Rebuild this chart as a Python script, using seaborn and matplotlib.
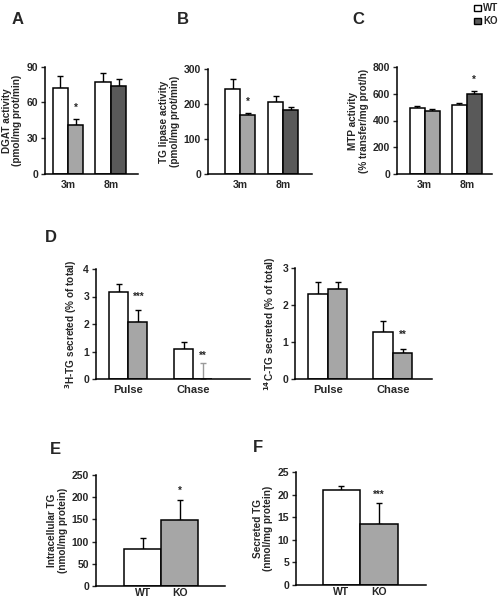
import numpy as np
import pandas as pd
import matplotlib
matplotlib.use("Agg")
import matplotlib.pyplot as plt
import seaborn as sns
from matplotlib.patches import Patch
from matplotlib.container import BarContainer

# data
ages = ["3m", "8m"]
phases = ["Pulse", "Chase"]
genotypes = ["WT", "KO"]

dgat_wt = [72, 77]
dgat_wt_err = [10, 8]
dgat_ko = [41, 74]
dgat_ko_err = [5.5, 5.5]

lipase_wt = [244, 207]
lipase_wt_err = [28, 16]
lipase_ko = [170, 183]
lipase_ko_err = [3, 9]

mtp_wt = [493, 518]
mtp_wt_err = [12, 10]
mtp_ko = [473, 600]
mtp_ko_err = [16, 18]

h3_wt = [3.17, 1.10]
h3_wt_err = [0.28, 0.23]
h3_ko = [2.06, 0.0]
h3_ko_err = [0.44, 0.6]

c14_wt = [2.29, 1.26]
c14_wt_err = [0.34, 0.31]
c14_ko = [2.43, 0.71]
c14_ko_err = [0.20, 0.10]

intra_tg = [84, 149]
intra_tg_err = [23, 44]
secr_tg = [21.0, 13.6]
secr_tg_err = [0.8, 4.6]

sns.set_style("white")
plt.rcParams["font.family"] = ["Liberation Sans", "DejaVu Sans"]
plt.rcParams["font.weight"] = "bold"
plt.rcParams["axes.labelweight"] = "bold"

LIGHT = "#a6a6a6"
DARK = "#595959"


def style_axis(ax, ticks, ylabel, ylim):
    sns.despine(ax=ax)
    ax.set_ylim(*ylim)
    ax.set_yticks(ticks)
    ax.tick_params(axis="y", direction="out", length=3, width=1, labelsize=7.5, pad=2, left=True)
    ax.tick_params(axis="x", length=0, labelsize=7.5, pad=4)
    for lab in ax.get_xticklabels() + ax.get_yticklabels():
        lab.set_fontweight("bold")
    for s in ["left", "bottom"]:
        ax.spines[s].set_linewidth(1.1)
        ax.spines[s].set_color("black")
    ax.set_xlabel("")
    ax.set_ylabel(ylabel, fontsize=7.2, fontweight="bold", labelpad=3, linespacing=1.1)


def add_err(ax, errs, colors=None):
    bars = [c for c in ax.containers if isinstance(c, BarContainer)]
    for c, cont in enumerate(bars):
        for i, bar in enumerate(cont):
            x = bar.get_x() + bar.get_width() / 2
            y = bar.get_height()
            col = "black" if colors is None else colors[c][i]
            ax.errorbar(x, y, yerr=[[0], [errs[c][i]]], fmt="none", ecolor=col,
                        elinewidth=1, capsize=2.5, capthick=1, zorder=1)


def grouped(ax, cats, wt, ko, width, xlim):
    df = pd.DataFrame({
        "cat": cats * 2,
        "val": wt + ko,
        "geno": ["WT"] * len(cats) + ["KO"] * len(cats),
    })
    sns.barplot(data=df, x="cat", y="val", hue="geno", ax=ax, width=width,
                palette={"WT": "white", "KO": LIGHT}, saturation=1,
                edgecolor="black", linewidth=1.1, legend=False, zorder=2)
    ax.set_xlim(*xlim)


def single(ax, vals, xlim):
    df = pd.DataFrame({"geno": genotypes, "val": vals})
    sns.barplot(data=df, x="geno", y="val", hue="geno", ax=ax, width=1.0,
                palette={"WT": "white", "KO": LIGHT}, saturation=1,
                edgecolor="black", linewidth=1.1, legend=False, zorder=2)
    ax.set_xlim(*xlim)


fig = plt.figure(figsize=(5.01, 6.0), dpi=100)

def fig_ax(l, t, r, b):
    W, H = 501, 600
    return fig.add_axes([l / W, 1 - b / H, (r - l) / W, (b - t) / H])

# A
axA = fig_ax(45, 66.7, 138, 174)
grouped(axA, ages, dgat_wt, dgat_ko, 0.72, (-0.535, 1.63))
axA.containers[1][1].set_facecolor(DARK)
add_err(axA, [dgat_wt_err, dgat_ko_err])
style_axis(axA, [0, 30, 60, 90], "DGAT activity\n(pmol/mg prot/min)", (0, 90))
axA.text(0.18, 53, "*", ha="center", fontsize=7, fontweight="bold")

# B
axB = fig_ax(208, 69, 312, 174)
grouped(axB, ages, lipase_wt, lipase_ko, 0.70, (-0.75, 1.67))
axB.containers[1][1].set_facecolor(DARK)
add_err(axB, [lipase_wt_err, lipase_ko_err])
style_axis(axB, [0, 100, 200, 300], "TG lipase activity\n(pmol/mg prot/min)", (0, 300))
axB.text(0.175, 197, "*", ha="center", fontsize=7, fontweight="bold")

# C
axC = fig_ax(397, 67, 492, 174)
grouped(axC, ages, mtp_wt, mtp_ko, 0.71, (-0.66, 1.6))
axC.containers[1][1].set_facecolor(DARK)
add_err(axC, [mtp_wt_err, mtp_ko_err])
style_axis(axC, [0, 200, 400, 600, 800], "MTP activity\n(% transfer/mg prot/h)", (0, 800))
axC.text(1.178, 680, "*", ha="center", fontsize=7, fontweight="bold")

# D left
axD1 = fig_ax(96, 269, 250, 379)
grouped(axD1, phases, h3_wt, h3_ko, 0.59, (-0.5, 1.88))
add_err(axD1, [h3_wt_err, h3_ko_err], colors=[["black", "black"], ["black", "#9a9a9a"]])
style_axis(axD1, [0, 1, 2, 3, 4], r"$^{3}$H-TG secreted (% of total)", (0, 4))
axD1.text(0.16, 2.88, "***", ha="center", fontsize=7, fontweight="bold")
axD1.text(1.15, 0.72, "**", ha="center", fontsize=7, fontweight="bold")
axD1.tick_params(axis="x", labelsize=8)

# D right
axD2 = fig_ax(295, 268, 432, 379)
grouped(axD2, phases, c14_wt, c14_ko, 0.60, (-0.503, 1.6))
add_err(axD2, [c14_wt_err, c14_ko_err])
style_axis(axD2, [0, 1, 2, 3], r"$^{14}$C-TG secreted (% of total)", (0, 3))
axD2.text(1.15, 1.1, "**", ha="center", fontsize=7, fontweight="bold")
axD2.tick_params(axis="x", labelsize=8)

# E
axE = fig_ax(96, 475, 225, 586)
single(axE, intra_tg, (-1.26, 2.23))
add_err(axE, [[intra_tg_err[0]], [intra_tg_err[1]]])
style_axis(axE, [0, 50, 100, 150, 200, 250], "Intracellular TG\n(nmol/mg protein)", (0, 250))
axE.text(1.0, 208, "*", ha="center", fontsize=7, fontweight="bold")
axE.tick_params(axis="x", labelsize=7.5, pad=1.5)

# F
axF = fig_ax(296, 472, 426, 585)
single(axF, secr_tg, (-1.21, 2.25))
add_err(axF, [[secr_tg_err[0]], [secr_tg_err[1]]])
style_axis(axF, [0, 5, 10, 15, 20, 25], "Secreted TG\n(nmol/mg protein)", (0, 25))
axF.text(1.0, 19.2, "***", ha="center", fontsize=7, fontweight="bold")
axF.tick_params(axis="x", labelsize=7.5, pad=1.5)

# panel letters
for lbl, x, y in [("A", 12, 20), ("B", 177, 20), ("C", 352, 20),
                  ("D", 45, 237), ("E", 50, 449), ("F", 253, 447)]:
    fig.text(x / 501, 1 - y / 600, lbl, fontsize=12, fontweight="bold", va="center", ha="left")

# legend
handles = [Patch(facecolor="white", edgecolor="black", linewidth=1, label="WT"),
           Patch(facecolor=DARK, edgecolor="black", linewidth=1, label="KO")]
fig.legend(handles=handles, loc="upper left", bbox_to_anchor=(474 / 501, 0.995), frameon=False,
           prop={"size": 7, "weight": "bold"}, handlelength=0.7, handleheight=0.7,
           handletextpad=0.2, labelspacing=0.3, borderpad=0.05, borderaxespad=0)

fig.savefig("out.png", dpi=100)
